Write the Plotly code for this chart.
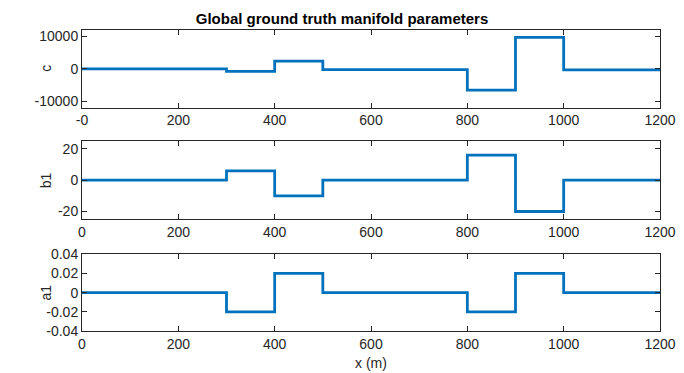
import plotly.graph_objects as go
from plotly.subplots import make_subplots

# Data
x_breaks = [0, 300, 400, 500, 800, 900, 1000, 1200]
c_vals = [0, -800, 2400, -250, -6600, 9700, -350, -350]
b1_vals = [0, 6, -10, 0, 16, -20, 0, 0]
a1_vals = [0, -0.02, 0.02, 0, -0.02, 0.02, 0, 0]

x_ticks = [0, 200, 400, 600, 800, 1000, 1200]
x_ticktext_top = ["-0", "200", "400", "600", "800", "1000", "1200"]
x_ticktext = ["0", "200", "400", "600", "800", "1000", "1200"]
c_ticks = [-10000, 0, 10000]
b1_ticks = [-20, 0, 20]
a1_ticks = [-0.04, -0.02, 0, 0.02, 0.04]
a1_ticktext = ["-0.04", "-0.02", "0", "0.02", "0.04"]

line_color = "#0072BD"
axis_color = "#262626"
font_family = "Liberation Sans, Arial, sans-serif"

fig = make_subplots(rows=3, cols=1, shared_xaxes=False, vertical_spacing=0.1)

series = [(c_vals, "c"), (b1_vals, "b1"), (a1_vals, "a1")]
for i, (vals, name) in enumerate(series, start=1):
    fig.add_trace(go.Scatter(x=x_breaks, y=vals, mode="lines", line_shape="hv",
                             line=dict(color=line_color, width=2.8), showlegend=False),
                  row=i, col=1)

domains = [[0.742, 1.0], [0.371, 0.631], [0.0, 0.255]]
yranges = [[-12000, 12000], [-25, 25], [-0.04, 0.04]]
yticks = [(c_ticks, [str(v) for v in c_ticks]), (b1_ticks, [str(v) for v in b1_ticks]), (a1_ticks, a1_ticktext)]
ytitles = ["c", "b1", "a1"]

common = dict(showline=True, linecolor=axis_color, linewidth=1, mirror="ticks",
              ticks="inside", ticklen=5, tickcolor=axis_color, showgrid=False,
              zeroline=False, automargin=False,
              tickfont=dict(family=font_family, size=14, color=axis_color))

for i in range(3):
    xa = "xaxis" if i == 0 else f"xaxis{i+1}"
    ya = "yaxis" if i == 0 else f"yaxis{i+1}"
    fig.layout[xa].update(range=[0, 1200], tickvals=x_ticks,
                          ticktext=x_ticktext_top if i == 0 else x_ticktext, **common)
    fig.layout[ya].update(domain=domains[i], range=yranges[i], tickvals=yticks[i][0],
                          ticktext=yticks[i][1], **common)
    d = domains[i]
    fig.add_annotation(text=ytitles[i], xref="paper", yref="paper",
                       x=-(82 - 46) / 578, y=(d[0] + d[1]) / 2, textangle=-90,
                       showarrow=False, xanchor="center", yanchor="middle",
                       font=dict(family=font_family, size=14, color=axis_color))

fig.add_annotation(text="x (m)", xref="paper", yref="paper", x=0.5, y=-(363 - 331) / 301,
                   showarrow=False, xanchor="center", yanchor="middle",
                   font=dict(family=font_family, size=14, color=axis_color))

fig.update_layout(
    width=684, height=373,
    margin=dict(l=82, r=24, t=30, b=42, autoexpand=False),
    paper_bgcolor="white", plot_bgcolor="white",
    title=dict(text="<b>Global ground truth manifold parameters</b>", x=342/684, xanchor="center",
               y=1 - 19/373, yanchor="middle",
               font=dict(family=font_family, size=15, color="black")),
)

fig.write_html("out.html", config={"displayModeBar": False},
               post_script="document.body.style.margin='0';")
